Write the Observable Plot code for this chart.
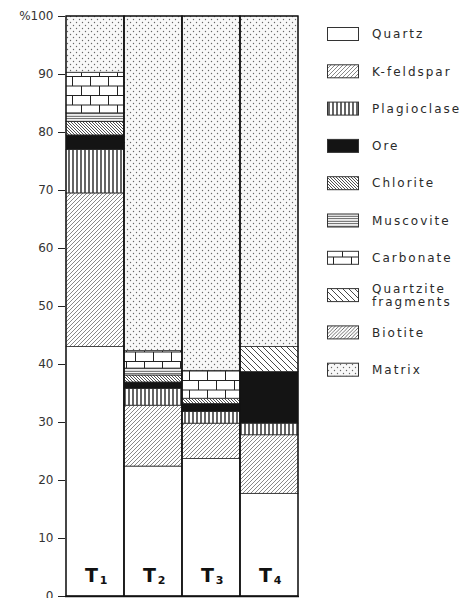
<!DOCTYPE html>
<html><head><meta charset="utf-8">
<script src="https://cdn.jsdelivr.net/npm/d3@7"></script>
<script src="https://cdn.jsdelivr.net/npm/@observablehq/plot@0.6"></script>
<style>html,body{margin:0;padding:0;background:#fff;} svg{display:block}</style>
</head><body><div id="chart"></div>
<script>
const samples = ["T1", "T2", "T3", "T4"];
const sampleSubs = ["1", "2", "3", "4"];
const minerals = ["Quartz", "K-feldspar", "Plagioclase", "Ore", "Chlorite", "Muscovite", "Carbonate", "Quartzite fragments", "Biotite", "Matrix"];
// percentages per sample, in mineral order (bottom to top)
const valuesT1 = [43.0, 26.5, 7.5, 2.5, 2.3, 1.5, 7.0, 0, 0, 9.7];
const valuesT2 = [22.4, 10.5, 2.9, 1.1, 1.2, 1.2, 3.0, 0, 0, 57.7];
const valuesT3 = [23.7, 6.1, 2.0, 1.4, 0.9, 0, 4.8, 0, 0, 61.1];
const valuesT4 = [17.7, 10.1, 2.0, 8.9, 0, 0, 0, 4.3, 0, 57.0];
const yTicks = [0, 10, 20, 30, 40, 50, 60, 70, 80, 90, 100];
const legendLines = [["Quartz"], ["K-feldspar"], ["Plagioclase"], ["Ore"], ["Chlorite"], ["Muscovite"], ["Carbonate"], ["Quartzite", "fragments"], ["Biotite"], ["Matrix"]];

const table = [];
[valuesT1, valuesT2, valuesT3, valuesT4].forEach((vals, i) =>
  vals.forEach((v, j) => { if (v > 0) table.push({sample: samples[i], mineral: minerals[j], value: v}); }));

const patIds = minerals.map((m, i) => "pat" + i);

const chart = Plot.plot({
  width: 463, height: 598,
  marginTop: 16, marginBottom: 2, marginLeft: 65, marginRight: 164,
  style: {fontFamily: "DejaVu Sans", background: "white", color: "#333"},
  x: {domain: samples, padding: 0, axis: null},
  y: {domain: [0, 100], axis: null},
  color: {type: "ordinal", domain: minerals, range: patIds.map(id => `url(#${id})`)},
  marks: [
    Plot.barY(table, {x: "sample", y: "value", fill: "mineral", order: minerals, stroke: "#2a2a2a", strokeWidth: 0.8}),
    Plot.barY(samples, {x: d => d, y1: 0, y2: 100, fill: "none", stroke: "#111", strokeWidth: 1.3}),
    Plot.axisY(yTicks, {label: null, tickSize: 7, tickPadding: 5, tickFormat: d => d === 100 ? "%100" : String(d), fontSize: 12, stroke: "#222"}),
    Plot.ruleY([0], {stroke: "#111", strokeWidth: 1.3}),
    Plot.text(samples, {x: d => d, y: 3.6, text: () => "T", fontSize: 19, fontWeight: "bold", dx: -4, fill: "#111"}),
    Plot.text(sampleSubs, {x: (d, i) => samples[i], y: 3.6, text: d => d, fontSize: 11, fontWeight: "bold", dx: 8, dy: 5, fill: "#111"})
  ]
});

document.getElementById("chart").appendChild(chart);
const svg = d3.select(chart);
svg.selectAll("[aria-label='y-axis tick-label'] text").style("letter-spacing", "2.5px");

const defs = svg.insert("defs", ":first-child");
function pat(id, w, h) {
  const p = defs.append("pattern").attr("id", id).attr("patternUnits", "userSpaceOnUse").attr("width", w).attr("height", h);
  p.append("rect").attr("width", w).attr("height", h).attr("fill", "#fff");
  return p;
}
pat("pat0", 4, 4);
pat("pat1", 4, 4).append("path").attr("d", "M-1,1L1,-1M0,4L4,0M3,5L5,3").attr("stroke", "#555").attr("stroke-width", 0.7);
pat("pat2", 4, 4).append("path").attr("d", "M1,0V4").attr("stroke", "#111").attr("stroke-width", 1.3);
pat("pat3", 4, 4).select("rect").attr("fill", "#141414");
pat("pat4", 3, 3).append("path").attr("d", "M-1,2L1,4M0,0L3,3M2,-1L4,1").attr("stroke", "#222").attr("stroke-width", 0.8);
pat("pat5", 4, 2.5).append("path").attr("d", "M0,1.2H4").attr("stroke", "#444").attr("stroke-width", 0.9);
pat("pat6", 18, 19).append("path").attr("d", "M0,0.5H18M0,10H18M0.5,0V10M9.5,10V19").attr("stroke", "#222").attr("stroke-width", 1);
pat("pat7", 6, 6).append("path").attr("d", "M-1.5,4.5L1.5,7.5M0,0L6,6M4.5,-1.5L7.5,1.5").attr("stroke", "#333").attr("stroke-width", 0.9);
pat("pat8", 3.5, 3.5).append("path").attr("d", "M-1,1L1,-1M0,3.5L3.5,0M2.5,4.5L4.5,2.5").attr("stroke", "#333").attr("stroke-width", 0.7);
const pm = pat("pat9", 6, 6);
pm.select("rect").attr("fill", "#f8f8f8");
pm.append("circle").attr("cx", 1.5).attr("cy", 1.5).attr("r", 0.7).attr("fill", "#666");
pm.append("circle").attr("cx", 4.5).attr("cy", 4.5).attr("r", 0.7).attr("fill", "#666");

// legend
const lg = svg.append("g").attr("font-family", "DejaVu Sans").attr("font-size", 12).attr("fill", "#2a2a2a").attr("text-anchor", "start");
minerals.forEach((m, i) => {
  const cy = 34 + i * 37.3;
  lg.append("rect").attr("x", 327.5).attr("y", cy - 6.5).attr("width", 31).attr("height", 13)
    .attr("fill", `url(#${patIds[i]})`).attr("stroke", "#333").attr("stroke-width", 1);
  const lines = legendLines[i];
  lines.forEach((t, k) => {
    lg.append("text").attr("x", 372).attr("y", cy + (k - (lines.length - 1) / 2) * 13)
      .attr("dy", "0.35em").attr("text-anchor", "start").style("letter-spacing", "2px").text(t);
  });
});
</script></body></html>
